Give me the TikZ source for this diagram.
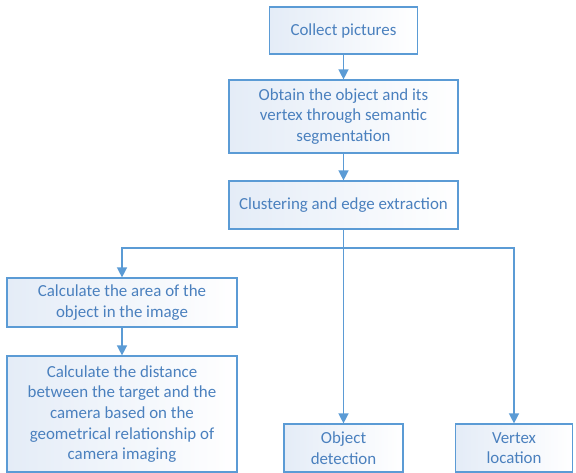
\documentclass[tikz,border=0pt]{standalone}
\usepackage{fontspec}
\setmainfont{Carlito}
\usetikzlibrary{arrows.meta}

\definecolor{boxline}{RGB}{91,155,213}
\definecolor{boxtext}{RGB}{74,128,190}
\definecolor{boxfill}{RGB}{228,236,247}

\tikzset{
    stage/.style={draw=boxline, line width=1.2pt, left color=boxfill, right color=white,
        text=boxtext, align=center, inner sep=0pt,
        font=\fontsize{16.9}{20.6}\selectfont},
    link/.style={draw=boxline, line width=1.4pt},
    flow/.style={link, -{Triangle[length=10pt,width=10pt]}}
}

\begin{document}
\begin{tikzpicture}[x=1pt, y=-1pt]

    \useasboundingbox (0,0) rectangle (576,472);

    % main chain
    \node[stage, minimum width=148pt, minimum height=47pt] (collect) at (343.5, 30.5) {Collect pictures};
    \node[stage, minimum width=229pt, minimum height=73pt] (segment) at (343.5, 116.5)
        {Obtain the object and its\\vertex through semantic\\segmentation};
    \node[stage, minimum width=229pt, minimum height=48pt] (cluster) at (343.5, 205) {Clustering and edge extraction};

    % left branch
    \node[stage, minimum width=230pt, minimum height=49pt] (area) at (122, 302.5)
        {Calculate the area of the\\object in the image};
    \node[stage, minimum width=230pt, minimum height=116pt] (distance) at (122, 414)
        {Calculate the distance\\between the target and the\\camera based on the\\geometrical relationship of\\camera imaging};

    % other branches
    \node[stage, minimum width=119pt, minimum height=48pt] (detect) at (343.5, 448) {Object\\detection};
    \node[stage, minimum width=117pt, minimum height=48pt] (vertex) at (514, 448) {Vertex\\location};

    \coordinate (split) at (343.5, 248);

    \draw[flow] (collect) -- (segment);
    \draw[flow] (segment) -- (cluster);
    \draw[link] (cluster) -- (split);
    \draw[flow] (split) -| (area);
    \draw[flow] (split) -- (detect);
    \draw[flow] (split) -| (vertex);
    \draw[flow] (area) -- (distance);

\end{tikzpicture}
\end{document}
